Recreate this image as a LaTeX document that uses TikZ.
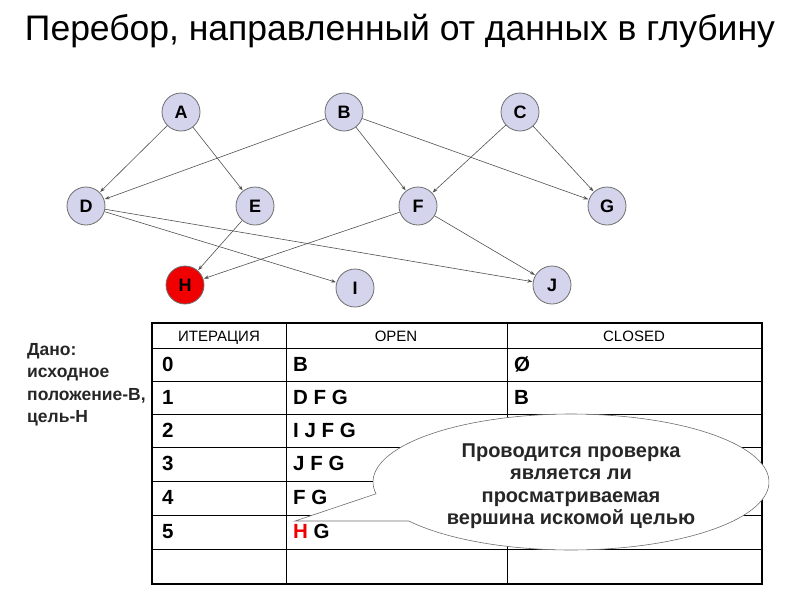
\documentclass[tikz,border=0pt]{standalone}
\usepackage{fontspec}
\setmainfont{Liberation Sans}
\usepackage{tikz}
\usetikzlibrary{arrows.meta,positioning,calc}
\definecolor{lav}{HTML}{D4D4EC}
\definecolor{rim}{HTML}{6E6E6E}
\definecolor{goalred}{HTML}{F00000}
\definecolor{edge}{HTML}{505050}
\tikzset{arr/.style={-{Stealth[length=5pt,width=3.5pt]},line width=0.6pt,draw=edge,shorten >=0.5pt},
  vertex/.style={circle,draw=rim,line width=0.8pt,fill=lav,minimum size=38pt,inner sep=0pt,font=\fontsize{18}{18}\selectfont\bfseries},
  goal/.style={vertex,fill=goalred},
  cell/.style={anchor=base west,inner sep=0pt,font=\fontsize{20.5}{20.5}\selectfont\bfseries},
  hdr/.style={anchor=base,inner sep=0pt,font=\fontsize{15}{15}\selectfont},
  grid/.style={line width=0.6pt,draw=black}}
\begin{document}
\begin{tikzpicture}[x=1pt,y=-1pt]
\useasboundingbox (0,0) rectangle (800,600);
\node[font=\fontsize{35.5}{35.5}\selectfont] (title) at (400,31) {Перебор, направленный от данных в глубину};
% graph
\node[vertex] (A) at (181,112) {A};
\node[vertex] (B) at (344,112) {B};
\node[vertex] (C) at (520,112) {C};
\node[vertex] (D) at (86,206) {D};
\node[vertex] (E) at (255,206) {E};
\node[vertex] (F) at (418,206) {F};
\node[vertex] (G) at (607,206) {G};
\node[goal] (H) at (185,285) {H};
\node[vertex] (I) at (355,288) {I};
\node[vertex] (J) at (552,285) {J};
\draw[arr] (A) -- (D);
\draw[arr] (A) -- (E);
\draw[arr] (B) -- (D);
\draw[arr] (B) -- (F);
\draw[arr] (B) -- (G);
\draw[arr] (C) -- (F);
\draw[arr] (C) -- (G);
\draw[arr] (D) -- (I);
\draw[arr] (D) -- (J);
\draw[arr] (E) -- (H);
\draw[arr] (F) -- (H);
\draw[arr] (F) -- (J);
% given
\node[anchor=north west,align=left,font=\fontsize{17.5}{22.5}\selectfont\bfseries,text=black!85,inner sep=0pt] (given) at (27,343) {Дано:\\исходное\\положение-В,\\цель-Н};
% table
\foreach \y in {348,381,414,447,481,515,549} \draw[grid] (152,\y) -- (762,\y);
\draw[grid] (286,323) -- (286,584);
\draw[grid] (507,323) -- (507,584);
\draw[grid,line width=1.3pt] (152,323) rectangle (762,584);
\node[hdr] (h1) at (219,341) {ИТЕРАЦИЯ};
\node[hdr] (h2) at (396,341) {OPEN};
\node[hdr] (h3) at (634,341) {CLOSED};
\node[cell] (r0a) at (162,371) {0};
\node[cell] (r0b) at (293,371) {B};
\node[cell] (r0c) at (514,371) {Ø};
\node[cell] (r1a) at (162,404) {1};
\node[cell] (r1b) at (293,404) {D F G};
\node[cell] (r1c) at (514,404) {B};
\node[cell] (r2a) at (162,437) {2};
\node[cell] (r2b) at (293,437) {I J F G};
\node[cell] (r3a) at (162,470) {3};
\node[cell] (r3b) at (293,470) {J F G};
\node[cell] (r4a) at (162,504) {4};
\node[cell] (r4b) at (293,504) {F G};
\node[cell] (r5a) at (162,538) {5};
\node[cell] (r5b) at (293,538) {\textcolor{goalred}{H} G};
% callout
\coordinate (tip) at (295,521);
\filldraw[fill=white,draw=rim,line width=0.6pt] (tip) -- plot[domain=170:505,samples=120] ({571+198*cos(\x)},{482+68*sin(\x)}) -- cycle;
\node[align=center,font=\fontsize{20}{22.5}\selectfont\bfseries,text=black!85] (note) at (571,486) {Проводится проверка\\является ли\\просматриваемая\\вершина искомой целью};
\end{tikzpicture}
\end{document}
